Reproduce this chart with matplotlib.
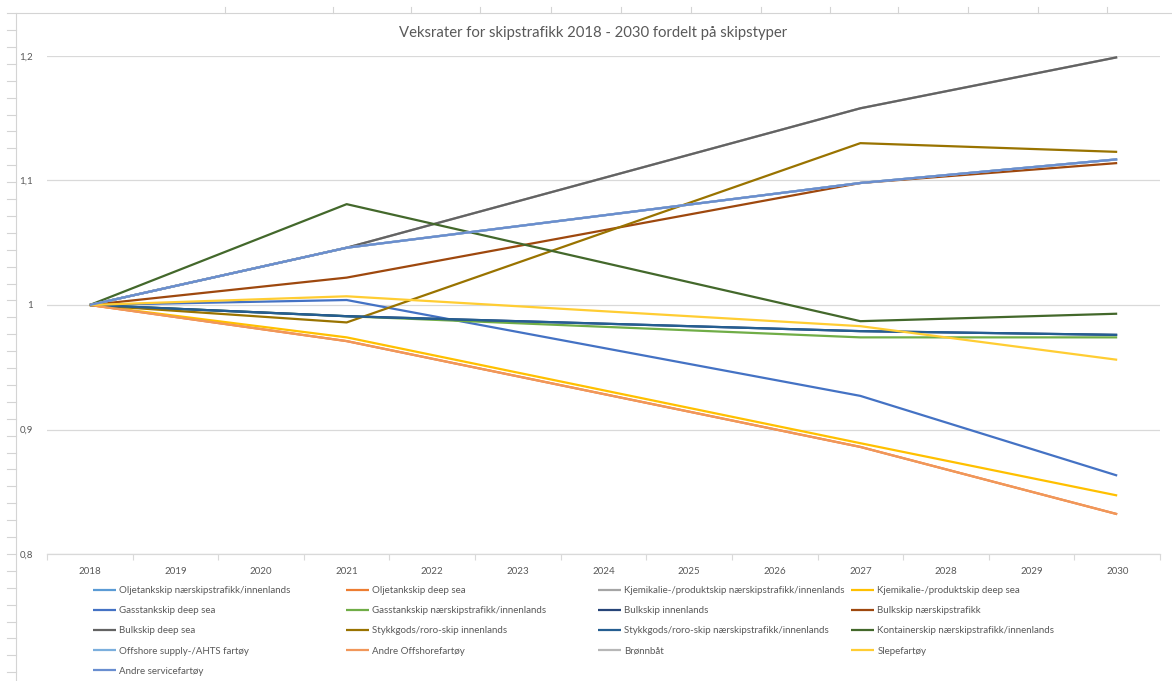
import numpy as np
import matplotlib
matplotlib.use("Agg")
import matplotlib.pyplot as plt
from matplotlib.lines import Line2D

plt.rcParams["font.family"] = ["Lato", "DejaVu Sans"]

W, H, DPI = 1172, 681, 100
TEXT = "#595959"
GRID = "#D9D9D9"

years = list(range(2018, 2031))
# years with values in the sheet; Excel connects the points across empty cells
data_years = [2018, 2021, 2027, 2030]

olje_naer = [1.0, 1.046, 1.098, 1.117]
olje_deep = [1.0, 0.971, 0.886, 0.832]
kjemi_naer = [1.0, 1.046, 1.158, 1.199]
kjemi_deep = [1.0, 0.974, 0.889, 0.847]
gass_deep = [1.0, 1.004, 0.927, 0.863]
gass_naer = [1.0, 0.991, 0.974, 0.974]
bulk_inn = [1.0, 0.991, 0.979, 0.976]
bulk_naer = [1.0, 1.022, 1.098, 1.114]
bulk_deep = [1.0, 1.046, 1.158, 1.199]
stykk_inn = [1.0, 0.986, 1.130, 1.123]
stykk_naer = [1.0, 0.991, 0.979, 0.976]
kont_naer = [1.0, 1.081, 0.987, 0.993]
offshore_supply = [1.0, 1.046, 1.098, 1.117]
andre_offshore = [1.0, 0.971, 0.886, 0.832]
bronnbat = [1.0, 1.046, 1.098, 1.117]
slep = [1.0, 1.007, 0.983, 0.956]
andre_service = [1.0, 1.046, 1.098, 1.117]

series = [
    ("Oljetankskip nærskipstrafikk/innenlands", olje_naer, "#5B9BD5"),
    ("Oljetankskip deep sea", olje_deep, "#ED7D31"),
    ("Kjemikalie-/produktskip nærskipstrafikk/innenlands", kjemi_naer, "#A5A5A5"),
    ("Kjemikalie-/produktskip deep sea", kjemi_deep, "#FFC000"),
    ("Gasstankskip deep sea", gass_deep, "#4472C4"),
    ("Gasstankskip nærskipstrafikk/innenlands", gass_naer, "#70AD47"),
    ("Bulkskip innenlands", bulk_inn, "#264478"),
    ("Bulkskip nærskipstrafikk", bulk_naer, "#9E480E"),
    ("Bulkskip deep sea", bulk_deep, "#636363"),
    ("Stykkgods/roro-skip innenlands", stykk_inn, "#997300"),
    ("Stykkgods/roro-skip nærskipstrafikk/innenlands", stykk_naer, "#255E91"),
    ("Kontainerskip nærskipstrafikk/innenlands", kont_naer, "#43682B"),
    ("Offshore supply-/AHTS fartøy", offshore_supply, "#7CAFDD"),
    ("Andre Offshorefartøy", andre_offshore, "#F1975A"),
    ("Brønnbåt", bronnbat, "#B7B7B7"),
    ("Slepefartøy", slep, "#FFCD33"),
    ("Andre servicefartøy", andre_service, "#698ED0"),
]

y_ticks = [0.8, 0.9, 1.0, 1.1, 1.2]
y_labels = ["0,8", "0,9", "1", "1,1", "1,2"]


def fx(px):
    return px / W


def fy(py):
    return 1 - py / H


fig = plt.figure(figsize=(W / DPI, H / DPI), dpi=DPI)
ax = fig.add_axes([fx(47), fy(554), fx(1160) - fx(47), fy(56) - fy(554)])

handles = []
for name, vals, color in series:
    (ln,) = ax.plot(data_years, vals, color=color, lw=1.6, label=name,
                    solid_joinstyle="round", solid_capstyle="butt")
    handles.append(ln)

ax.set_xlim(years[0] - 0.5, years[-1] + 0.5)
ax.set_ylim(0.8, 1.2)

# category axis: labels centred in each slot, ticks on the slot borders
ax.set_xticks(np.arange(years[0] - 0.5, years[-1] + 1), labels=[])
ax.set_xticks(years, minor=True)
ax.set_xticklabels([str(y) for y in years], minor=True)
ax.tick_params(axis="x", which="major", length=4, width=0.8, color=GRID, direction="out")
ax.tick_params(axis="x", which="minor", length=0, pad=9, labelsize=7, labelcolor=TEXT)

ax.set_yticks(y_ticks, labels=y_labels)
ax.tick_params(axis="y", length=0, pad=10, labelsize=7, labelcolor=TEXT)
ax.grid(axis="y", color=GRID, lw=0.9)
ax.set_axisbelow(True)

for side in ["top", "right", "left"]:
    ax.spines[side].set_visible(False)
ax.spines["bottom"].set_color(GRID)
ax.spines["bottom"].set_linewidth(0.9)

fig.text(fx(593), fy(33), "Veksrater for skipstrafikk 2018 - 2030 fordelt på skipstyper",
         ha="center", va="center", fontsize=10.7, color=TEXT)

# legend laid out row by row in four fixed-width columns
col_x = [93, 346, 598, 851]
for c, x in enumerate(col_x):
    col_handles = handles[c::4]
    leg = fig.legend(handles=col_handles, labels=[h.get_label() for h in col_handles],
                     loc="upper left", bbox_to_anchor=(fx(x), fy(586)),
                     frameon=False, fontsize=7, labelcolor=TEXT,
                     handlelength=2.4, handletextpad=0.3, borderpad=0,
                     borderaxespad=0, labelspacing=1.15)

# worksheet edges behind the chart object
edge = "#D4D4D4"
fig.add_artist(Line2D([fx(16), fx(16)], [fy(13), fy(H)], color=edge, lw=0.8))
fig.add_artist(Line2D([fx(7), fx(W)], [fy(13), fy(13)], color=edge, lw=0.8))
for ry in np.arange(30, H, 16.9):
    fig.add_artist(Line2D([fx(7), fx(16)], [fy(ry), fy(ry)], color=edge, lw=0.8))
for cx in [225, 333, 411, 480, 551, 621, 691, 761, 830, 898, 968, 1038, 1107]:
    fig.add_artist(Line2D([fx(cx), fx(cx)], [fy(7), fy(13)], color=edge, lw=0.8))

fig.savefig("out.png", dpi=DPI)
